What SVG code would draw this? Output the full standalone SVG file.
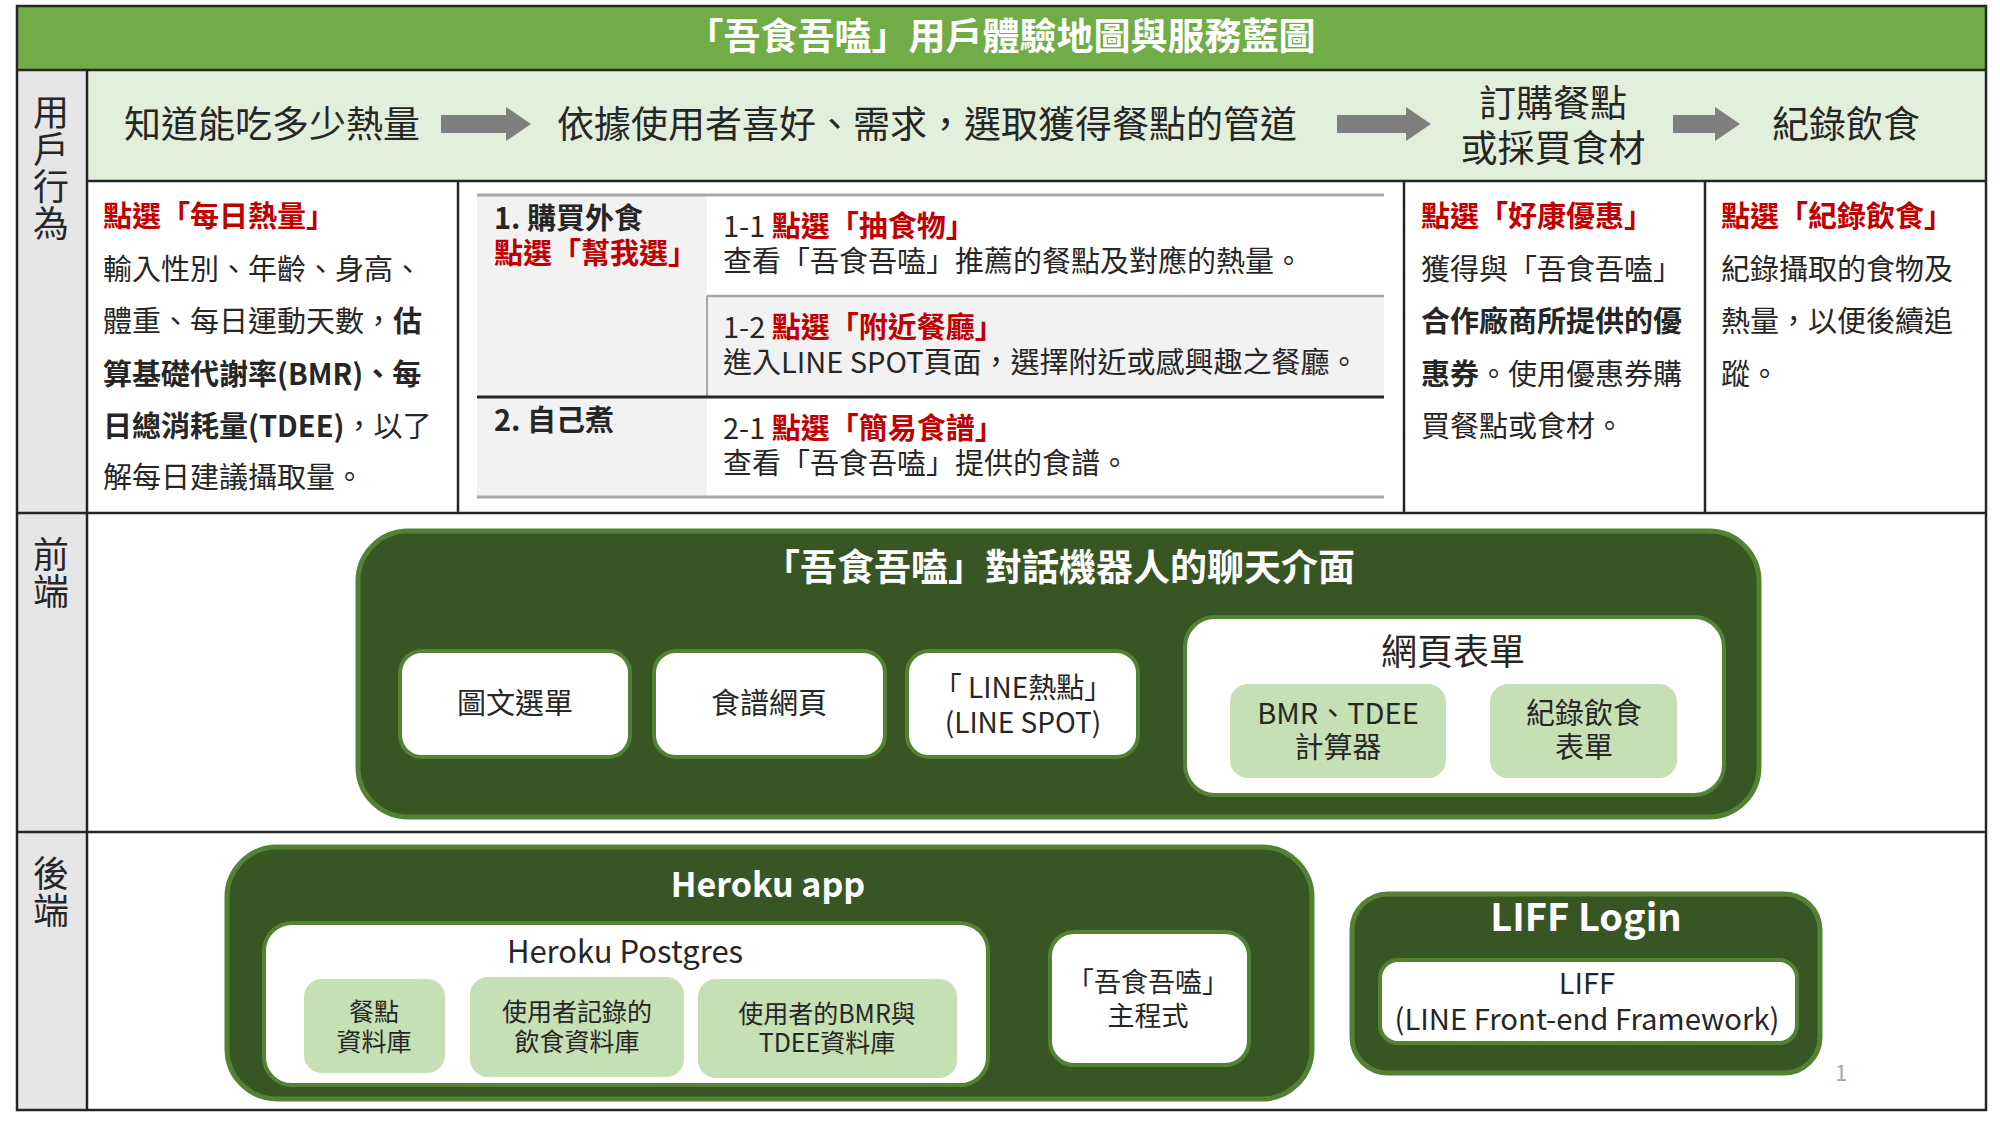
<svg xmlns="http://www.w3.org/2000/svg" width="2000" height="1125" viewBox="0 0 2000 1125">
<defs>
<style>
text { font-family: "Noto Sans CJK TC", "Noto Sans", sans-serif; dominant-baseline: central; fill: #262626; font-size: 29px; }
.b { font-weight: 700; }
.r { fill: #C00000; font-weight: 700; }
.w { fill: #ffffff; }
.c { text-anchor: middle; }
.grid { stroke: #262626; stroke-width: 2.5; fill: none; }
.dk { fill: #375623; stroke: #548235; stroke-width: 5; }
.wb { fill: #ffffff; stroke: #548235; stroke-width: 4; }
.lg { fill: #C5E0B4; }
.arrow { fill: #7F7F7F; }
.lbl { font-size: 36px; writing-mode: vertical-rl; dominant-baseline: auto; letter-spacing: 1px; }
.top { font-size: 37px; }
.tl { stroke: #A6A6A6; stroke-width: 3; }
</style>
</defs>
<rect x="0" y="0" width="2000" height="1125" fill="#ffffff"/>

<!-- background bands -->
<rect x="17" y="6" width="1969" height="64" fill="#70AD47"/>
<rect x="87" y="70" width="1899" height="111" fill="#E2EFDA"/>
<rect x="17" y="70" width="70" height="1040" fill="#E7E6E6"/>

<!-- grid -->
<g id="grid" class="grid">
  <rect x="17" y="6" width="1969" height="1104"/>
  <line x1="17" y1="70" x2="1986" y2="70"/>
  <line x1="87" y1="70" x2="87" y2="1110"/>
  <line x1="87" y1="181" x2="1986" y2="181"/>
  <line x1="17" y1="513" x2="1986" y2="513"/>
  <line x1="17" y1="832" x2="1986" y2="832"/>
  <line x1="458" y1="181" x2="458" y2="513"/>
  <line x1="1404" y1="181" x2="1404" y2="513"/>
  <line x1="1705" y1="181" x2="1705" y2="513"/>
</g>

<g id="title">
  <text x="1001" y="34" class="w b c" style="font-size:37px">「吾食吾嗑」用戶體驗地圖與服務藍圖</text>
</g>

<!-- lane labels -->
<g id="lane-user"><text x="51" y="94" class="lbl">用戶行為</text></g>
<g id="lane-front"><text x="51" y="536" class="lbl">前端</text></g>
<g id="lane-back"><text x="51" y="855" class="lbl">後端</text></g>

<!-- user journey steps -->
<g id="step1"><text x="124" y="122" class="top">知道能吃多少熱量</text></g>
<g id="step2"><text x="557" y="122" class="top">依據使用者喜好、需求，選取獲得餐點的管道</text></g>
<g id="step3">
  <text class="top c"><tspan x="1553" y="101">訂購餐點</tspan><tspan x="1553" y="146">或採買食材</tspan></text>
</g>
<g id="step4"><text x="1846" y="122" class="top c">紀錄飲食</text></g>

<g id="connectors" class="arrow">
  <path d="M441,115 H506 V107 L531,124 L506,141 V133 H441 Z"/>
  <path d="M1337,115 H1406 V107 L1431,124 L1406,141 V133 H1337 Z"/>
  <path d="M1673,115 H1715 V107 L1740,124 L1715,141 V133 H1673 Z"/>
</g>

<!-- detail column 1 -->
<g id="detail-calorie">
  <text x="103"><tspan x="103" y="214" class="r">點選「每日熱量」</tspan><tspan x="103" y="267">輸入性別、年齡、身高、</tspan><tspan x="103" y="319">體重、每日運動天數，</tspan><tspan class="b">估</tspan><tspan x="103" y="372" class="b">算基礎代謝率(BMR)、每</tspan><tspan x="103" y="424" class="b">日總消耗量(TDEE)</tspan><tspan>，以了</tspan><tspan x="103" y="475">解每日建議攝取量。</tspan></text>
</g>

<!-- detail column 2: channel table -->
<g id="detail-channels">
  <rect x="477" y="195" width="230" height="302" fill="#F2F2F2"/>
  <rect x="707" y="296" width="677" height="101" fill="#F2F2F2"/>
  <line x1="477" y1="195" x2="1384" y2="195" class="tl"/>
  <line x1="477" y1="497" x2="1384" y2="497" class="tl"/>
  <line x1="707" y1="296" x2="1384" y2="296" stroke="#A6A6A6" stroke-width="2.5"/>
  <line x1="707" y1="296" x2="707" y2="397" stroke="#A6A6A6" stroke-width="2"/>
  <line x1="477" y1="397" x2="1384" y2="397" stroke="#262626" stroke-width="3"/>
  <text><tspan x="494" y="216" class="b">1. 購買外食</tspan><tspan x="494" y="251" class="r">點選「幫我選」</tspan></text>
  <text x="494" y="418" class="b">2. 自己煮</text>
  <text><tspan x="723" y="224">1-1 </tspan><tspan class="r">點選「抽食物」</tspan><tspan x="723" y="259">查看「吾食吾嗑」推薦的餐點及對應的熱量。</tspan></text>
  <text><tspan x="723" y="325">1-2 </tspan><tspan class="r">點選「附近餐廳」</tspan><tspan x="723" y="360">進入LINE SPOT頁面，選擇附近或感興趣之餐廳。</tspan></text>
  <text><tspan x="723" y="426">2-1 </tspan><tspan class="r">點選「簡易食譜」</tspan><tspan x="723" y="461">查看「吾食吾嗑」提供的食譜。</tspan></text>
</g>

<!-- detail column 3 -->
<g id="detail-coupon">
  <text><tspan x="1421" y="214" class="r">點選「好康優惠」</tspan><tspan x="1421" y="267">獲得與「吾食吾嗑」</tspan><tspan x="1421" y="319" class="b">合作廠商所提供的優</tspan><tspan x="1421" y="372" class="b">惠券</tspan><tspan>。使用優惠券購</tspan><tspan x="1421" y="424">買餐點或食材。</tspan></text>
</g>

<!-- detail column 4 -->
<g id="detail-record">
  <text><tspan x="1721" y="214" class="r">點選「紀錄飲食」</tspan><tspan x="1721" y="267">紀錄攝取的食物及</tspan><tspan x="1721" y="319">熱量，以便後續追</tspan><tspan x="1721" y="372">蹤。</tspan></text>
</g>

<!-- front end -->
<g id="chatbot-ui">
  <rect x="358" y="531" width="1401" height="286" rx="50" class="dk"/>
  <text x="1059" y="565" class="w b c" style="font-size:37px">「吾食吾嗑」對話機器人的聊天介面</text>
</g>
<g id="rich-menu">
  <rect x="400" y="651" width="230" height="106" rx="22" class="wb"/>
  <text x="515" y="701" class="c">圖文選單</text>
</g>
<g id="recipe-web">
  <rect x="654" y="651" width="231" height="106" rx="22" class="wb"/>
  <text x="769" y="701" class="c">食譜網頁</text>
</g>
<g id="line-spot">
  <rect x="907" y="651" width="231" height="106" rx="22" class="wb"/>
  <text class="c" style="font-size:28px"><tspan x="1023" y="686">「 LINE熱點」</tspan><tspan x="1023" y="721">(LINE SPOT)</tspan></text>
</g>
<g id="web-form">
  <rect x="1185" y="617" width="539" height="178" rx="30" class="wb"/>
  <text x="1453" y="649" class="c" style="font-size:36px">網頁表單</text>
</g>
<g id="bmr-calc">
  <rect x="1230" y="684" width="216" height="94" rx="18" class="lg"/>
  <text class="c"><tspan x="1338" y="711">BMR、TDEE</tspan><tspan x="1338" y="745">計算器</tspan></text>
</g>
<g id="diet-form">
  <rect x="1490" y="684" width="187" height="94" rx="18" class="lg"/>
  <text class="c"><tspan x="1584" y="711">紀錄飲食</tspan><tspan x="1584" y="745">表單</tspan></text>
</g>

<!-- back end -->
<g id="heroku-app">
  <rect x="227" y="847" width="1085" height="252" rx="50" class="dk"/>
  <text x="768" y="882" class="w b c" style="font-size:34px">Heroku app</text>
</g>
<g id="heroku-postgres">
  <rect x="264" y="923" width="724" height="162" rx="28" class="wb"/>
  <text x="625" y="949" class="c" style="font-size:31px">Heroku Postgres</text>
</g>
<g id="db-meals">
  <rect x="304" y="979" width="141" height="94" rx="18" class="lg"/>
  <text class="c" style="font-size:25px"><tspan x="374" y="1010">餐點</tspan><tspan x="374" y="1040">資料庫</tspan></text>
</g>
<g id="db-diet">
  <rect x="470" y="977" width="214" height="100" rx="18" class="lg"/>
  <text class="c" style="font-size:25px"><tspan x="577" y="1010">使用者記錄的</tspan><tspan x="577" y="1040">飲食資料庫</tspan></text>
</g>
<g id="db-bmr">
  <rect x="698" y="979" width="259" height="99" rx="18" class="lg"/>
  <text class="c" style="font-size:25px"><tspan x="827" y="1012">使用者的BMR與</tspan><tspan x="827" y="1041">TDEE資料庫</tspan></text>
</g>
<g id="main-program">
  <rect x="1050" y="932" width="199" height="133" rx="24" class="wb"/>
  <text class="c" style="font-size:27px"><tspan x="1148" y="980">「吾食吾嗑」</tspan><tspan x="1148" y="1014">主程式</tspan></text>
</g>
<g id="liff-login">
  <rect x="1352" y="894" width="468" height="179" rx="36" class="dk"/>
  <text x="1586" y="914" class="w b c" style="font-size:38px">LIFF Login</text>
</g>
<g id="liff">
  <rect x="1380" y="960" width="417" height="83" rx="18" class="wb"/>
  <text class="c" style="font-size:29px"><tspan x="1587" y="981">LIFF</tspan><tspan x="1587" y="1017" textLength="385" lengthAdjust="spacingAndGlyphs">(LINE Front-end Framework)</tspan></text>
</g>

<text x="1841" y="1071" class="c" style="font-size:22px;fill:#A6A6A6">1</text>
</svg>
